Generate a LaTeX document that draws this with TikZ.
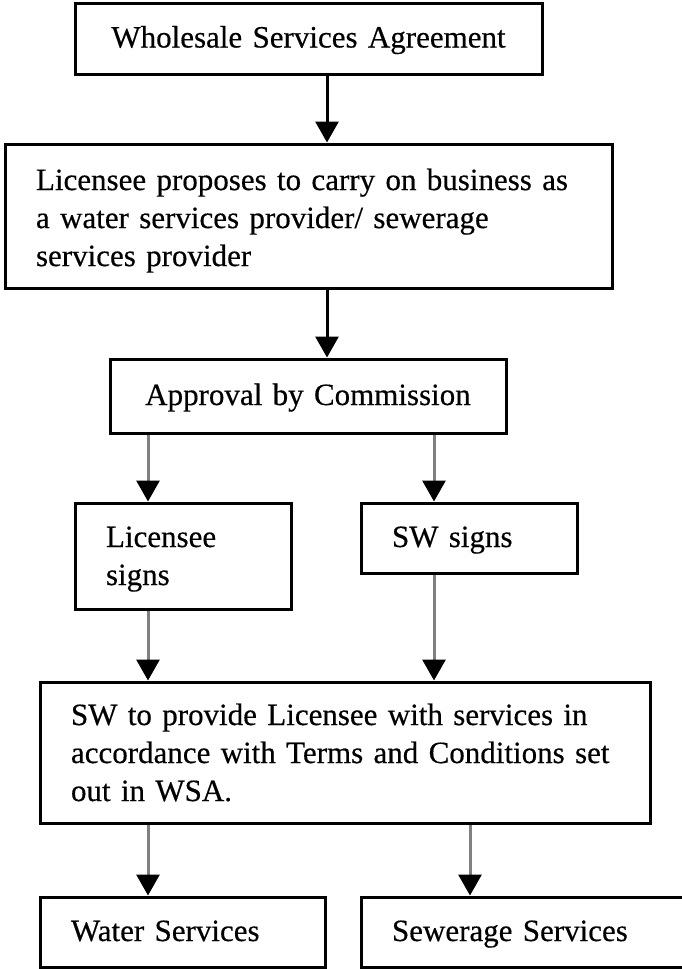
\documentclass[tikz,border=0pt]{standalone}
\usepackage{fontspec}
\setmainfont[FakeBold=0.4]{Liberation Serif}
\usetikzlibrary{arrows.meta,backgrounds}
\definecolor{arrgray}{RGB}{128,128,128}
\begin{document}
\begin{tikzpicture}[x=1pt,y=-1pt,
  boxnode/.style={draw, line width=3pt, rectangle, inner xsep=31pt, inner ysep=0pt,
    align=left, font=\fontsize{31}{38}\selectfont},
  oneline/.style={text height=21pt, text depth=3pt},
  arrblack/.style={line width=3pt, draw=black, -{Triangle[width=23pt,length=21pt,color=black,fill=black]}},
  arrgrey/.style={line width=3pt, draw=arrgray, -{Triangle[width=23pt,length=21pt,color=black,fill=black]}}
]
\useasboundingbox (0,0) rectangle (682,969);

\node[boxnode, oneline, align=center, minimum width=467pt, minimum height=71pt, text width=405pt] (b1) at (308.5,38.5)
  {\mbox{Wholesale Services Agreement}};
\node[boxnode, text height=30.7pt, minimum width=607pt, minimum height=144pt, text width=545pt] (b2) at (308.5,216)
  {\mbox{Licensee proposes to carry on business as}\\\mbox{a water services provider/ sewerage}\\\mbox{services provider}};
\node[boxnode, oneline, align=center, minimum width=396pt, minimum height=74pt, text width=334pt] (b3) at (308,396)
  {\mbox{Approval by Commission}};
\node[boxnode, text height=26.7pt, minimum width=216pt, minimum height=106pt, text width=154pt] (b4) at (183,556)
  {\mbox{Licensee}\\\mbox{signs}};
\node[boxnode, oneline, minimum width=216pt, minimum height=70pt, text width=154pt] (b5) at (469,538)
  {\mbox{SW signs}};
\node[boxnode, minimum width=610pt, minimum height=141pt, text width=548pt] (b6) at (345,752.5)
  {\mbox{SW to provide Licensee with services in}\\\mbox{accordance with Terms and Conditions set}\\\mbox{out in WSA.}};
\node[boxnode, oneline, minimum width=285pt, minimum height=70pt, text width=223pt] (b7) at (182.5,932)
  {\mbox{Water Services}};
\node[boxnode, oneline, minimum width=325pt, minimum height=70pt, text width=263pt] (b8) at (523.5,932)
  {\mbox{Sewerage Services}};

\coordinate (xa) at (327,0);
\coordinate (xl) at (148,0);
\coordinate (xr) at (434,0);
\coordinate (xs) at (470,0);

\begin{scope}[on background layer]
\fill[white] (0,0) rectangle (682,969);
\draw[arrblack] (b1.south -| xa) -- (b2.north -| xa);
\draw[arrblack] (b2.south -| xa) -- (b3.north -| xa);
\draw[arrgrey] (b3.south -| xl) -- (b4.north -| xl);
\draw[arrgrey] (b3.south -| xr) -- (b5.north -| xr);
\draw[arrgrey] (b4.south -| xl) -- (b6.north -| xl);
\draw[arrgrey] (b5.south -| xr) -- (b6.north -| xr);
\draw[arrgrey] (b6.south -| xl) -- (b7.north -| xl);
\draw[arrgrey] (b6.south -| xs) -- (b8.north -| xs);
\end{scope}
\end{tikzpicture}
\end{document}
